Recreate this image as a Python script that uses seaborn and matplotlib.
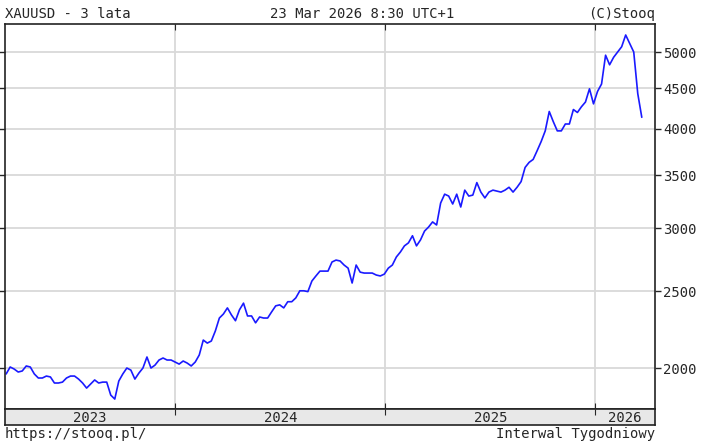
import numpy as np
import pandas as pd
import matplotlib
matplotlib.use("Agg")
import matplotlib.pyplot as plt
import matplotlib.dates as mdates
import seaborn as sns

prices_2023 = [1966,2006,1994,1977,1983,2012,2006,1966,1943,1943,1954,1949,1915,1915,1920,
               1943,1954,1954,1937,1915,1887,1909,1932,1915,1920,1920,1849,1828,1926,1966,2000,
               1988,1937,1971,2000,2065,2000,2017,2047,2059,2047,2047,2035,2023,2041,2029,2012,
               2035,2077,2169,2150,2163,2227,2312,2339,2381,2333,2294]
prices_2024 = [2368,2414,2326,2326,2280,2319,2312,2312,2354,2395,2402,2381,2424,2424,2451,2502,
               2502,2496,2574,2612,2649,2649,2649,2720,2735,2728,2696,2672,2559,2696,2641,2634,
               2634,2634,2619,2612,2626,2672,2696,2760,2800,2850,2875,2935,2850,2900,2975,3010,
               3055,3028,3227]
prices_2025 = [3311,3293,3218,3311,3190,3350,3293,3302,3424,3331,3275,3331,3350,3340,3331,3350,
               3378,3331,3378,3434,3578,3631,3662,3757,3858,3978,4208,4086,3978,3978,4058,4058,
               4232,4196,4266,4325,4494,4302,4460,4557,4954,4818,4924,5000,5077,5253,5124,5000,
               4432,4138]
prices = prices_2023 + prices_2024 + prices_2025
y_ticks = [2000, 2500, 3000, 3500, 4000, 4500, 5000]
years = [2023, 2024, 2025, 2026]

dates = pd.date_range(end="2026-03-23", periods=len(prices), freq="7D")
df = pd.DataFrame({"date": dates, "price": prices})

sns.set_style("white")
plt.rcParams["font.family"] = ["DejaVu Sans Mono"]
W, H = 702, 442
fig = plt.figure(figsize=(W/100, H/100), dpi=100)
L, R, T, B = 5, 655, 24, 409
ax = fig.add_axes([L/W, 1-B/H, (R-L)/W, (B-T)/H])
xmin, xmax = pd.Timestamp("2023-03-11"), pd.Timestamp("2026-04-15")

sns.lineplot(data=df, x="date", y="price", ax=ax, color="#1a1aff", lw=1.2)
ax.set_yscale("log")
ax.set_ylim(1776, 5423)
ax.set_xlim(xmin, xmax)
for v in y_ticks:
    ax.axhline(v, color="#d9d9d9", lw=1.3, zorder=0)
bounds = [pd.Timestamp(f"{y}-01-01") for y in years[1:]]
for b in bounds:
    ax.axvline(b, color="#d9d9d9", lw=1.3, zorder=0)
ax.yaxis.tick_right()
ax.set_yticks(y_ticks)
ax.set_yticklabels([str(v) for v in y_ticks], fontsize=10)
ax.yaxis.set_minor_locator(matplotlib.ticker.NullLocator())
ax.tick_params(axis="y", direction="out", length=4, width=1, pad=2, right=True, left=True)
ax.set_xticks(bounds)
ax.set_xticklabels([])
ax.tick_params(axis="x", direction="in", length=4, top=True, bottom=True)
ax.set_xlabel(""); ax.set_ylabel("")
for s in ax.spines.values():
    s.set_color("#222222"); s.set_linewidth(1.2)

bx = fig.add_axes([L/W, 1-425/H, (R-L)/W, 16/H])
bx.set_facecolor("#e8e8e8")
bx.set_xlim(xmin, xmax); bx.set_ylim(0, 1)
bx.set_yticks([])
bx.set_xticks(bounds); bx.set_xticklabels([])
bx.tick_params(axis="x", direction="in", length=4, top=True, bottom=False)
edges = [xmin] + bounds + [xmax]
for y, a, b in zip(years, edges[:-1], edges[1:]):
    bx.text(a + (b - a)/2, 0.45, str(y), ha="center", va="center", fontsize=10)
for s in bx.spines.values():
    s.set_color("#222222"); s.set_linewidth(1.2)

fig.text(5/W, 1-14/H, "XAUUSD - 3 lata", fontsize=10, va="center")
fig.text(362/W, 1-14/H, "23 Mar 2026 8:30 UTC+1", fontsize=10, va="center", ha="center")
fig.text(655/W, 1-14/H, "(C)Stooq", fontsize=10, va="center", ha="right")
fig.text(5/W, 1-434/H, "https://stooq.pl/", fontsize=10, va="center")
fig.text(655/W, 1-434/H, "Interwal Tygodniowy", fontsize=10, va="center", ha="right")
fig.savefig("out.png", dpi=100, facecolor="white")
